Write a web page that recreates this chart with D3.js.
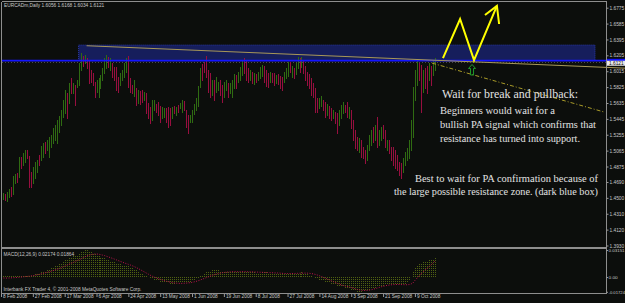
<!DOCTYPE html>
<html>
<head>
<meta charset="utf-8">
<script src="https://cdn.jsdelivr.net/npm/d3@7"></script>
<style>
    html, body { margin: 0; padding: 0; background: #0c0e0c; }
    svg { display: block; }
</style>
</head>
<body>
<svg id="chart"></svg>
<script>
// EURCADm daily bars, one value per bar (8 Feb 2008 .. late Oct 2008)
var open = [
1.4564,1.4504,1.4540,1.4504,1.4552,1.4588,1.4564,1.4708,1.4768,1.4756,
1.4960,1.4900,1.4972,1.5044,1.4972,1.4768,1.4696,1.4756,1.4828,1.4984,
1.4972,1.5008,1.5140,1.5080,1.5044,1.5128,1.5188,1.5236,1.5212,1.5332,
1.5404,1.5500,1.5572,1.5728,1.5668,1.5908,1.5776,1.5824,1.5836,1.5872,
1.6052,1.6172,1.6124,1.6160,1.6124,1.6004,1.5968,1.5860,1.5788,1.5740,
1.5836,1.5932,1.6016,1.6076,1.6172,1.6064,1.6100,1.6040,1.6028,1.5920,
1.5860,1.5932,1.5968,1.6028,1.6160,1.5908,1.5836,1.5740,1.5800,1.5656,
1.5764,1.5764,1.5680,1.5728,1.5608,1.5560,1.5452,1.5572,1.5608,1.5620,
1.5572,1.5476,1.5488,1.5548,1.5560,1.5548,1.5476,1.5584,1.5512,1.5596,
1.5584,1.5548,1.5644,1.5536,1.5464,1.5416,1.5428,1.5524,1.5572,1.5620,
1.5836,1.6076,1.6112,1.6172,1.6004,1.5968,1.5752,1.5884,1.5788,1.5800,
1.5884,1.5824,1.5728,1.5800,1.5860,1.5764,1.5728,1.5836,1.5956,1.5896,
1.5932,1.5992,1.6148,1.6124,1.6028,1.5920,1.5992,1.5872,1.5968,1.5920,
1.5956,1.5980,1.6064,1.6004,1.5968,1.5896,1.5980,1.5968,1.5884,1.5968,
1.5932,1.5920,1.5896,1.5956,1.5980,1.6112,1.5968,1.6040,1.5992,1.6076,
1.6160,1.6076,1.6136,1.6052,1.5980,1.5956,1.5908,1.5848,1.5788,1.5668,
1.5584,1.5620,1.5656,1.5620,1.5512,1.5584,1.5560,1.5464,1.5512,1.5488,
1.5392,1.5476,1.5536,1.5596,1.5620,1.5476,1.5536,1.5404,1.5284,1.5200,
1.5068,1.5176,1.5092,1.5044,1.4972,1.5092,1.5152,1.5320,1.5212,1.5428,
1.5152,1.5212,1.5344,1.5284,1.5080,1.5176,1.5080,1.5080,1.5044,1.4984,
1.4912,1.4888,1.4828,1.4912,1.4972,1.4996,1.5092,1.5248,1.5704,1.5884,
1.6100,1.6052,1.5788,1.6028,1.6052,1.5932,1.6064,1.5992,1.6056
];
var high = [
1.4588,1.4564,1.4552,1.4576,1.4600,1.4624,1.4756,1.4780,1.4792,1.4984,
1.4984,1.5032,1.5068,1.5068,1.4996,1.4804,1.4864,1.4924,1.4948,1.5008,
1.5116,1.5152,1.5164,1.5188,1.5224,1.5248,1.5332,1.5368,1.5428,1.5476,
1.5548,1.5668,1.5788,1.5752,1.5872,1.5932,1.5872,1.5848,1.5908,1.6112,
1.6232,1.6196,1.6208,1.6172,1.6148,1.6028,1.5992,1.5884,1.5908,1.5932,
1.5968,1.6052,1.6172,1.6208,1.6184,1.6172,1.6112,1.6064,1.6064,1.5944,
1.5992,1.6028,1.6112,1.6172,1.6196,1.5932,1.5848,1.5908,1.5812,1.5788,
1.5776,1.5788,1.5764,1.5752,1.5632,1.5584,1.5668,1.5668,1.5620,1.5644,
1.5596,1.5584,1.5572,1.5572,1.5584,1.5572,1.5584,1.5596,1.5584,1.5608,
1.5632,1.5668,1.5656,1.5548,1.5488,1.5488,1.5548,1.5620,1.5692,1.5836,
1.6052,1.6100,1.6124,1.6196,1.6028,1.5992,1.5908,1.5908,1.5944,1.5884,
1.5908,1.5848,1.5884,1.5908,1.5872,1.5872,1.5908,1.5980,1.5968,1.6004,
1.6064,1.6148,1.6172,1.6148,1.6052,1.6028,1.6004,1.5992,1.5980,1.6004,
1.6064,1.6088,1.6076,1.6028,1.5992,1.6004,1.5992,1.5992,1.5968,1.5980,
1.5956,1.5944,1.6004,1.6052,1.6124,1.6124,1.6076,1.6052,1.6112,1.6184,
1.6172,1.6184,1.6148,1.6076,1.6004,1.5980,1.5932,1.5872,1.5812,1.5692,
1.5692,1.5716,1.5668,1.5644,1.5620,1.5596,1.5572,1.5548,1.5524,1.5512,
1.5548,1.5608,1.5644,1.5608,1.5644,1.5584,1.5548,1.5428,1.5308,1.5224,
1.5212,1.5188,1.5104,1.5068,1.5128,1.5248,1.5308,1.5344,1.5368,1.5464,
1.5308,1.5344,1.5368,1.5308,1.5188,1.5188,1.5104,1.5104,1.5068,1.5008,
1.4924,1.4912,1.4972,1.5044,1.5092,1.5188,1.5428,1.5824,1.6028,1.6148,
1.6112,1.6088,1.6028,1.6052,1.6076,1.6112,1.6076,1.6148,1.6168
];
var low = [
1.4468,1.4492,1.4480,1.4468,1.4516,1.4528,1.4552,1.4672,1.4684,1.4744,
1.4852,1.4888,1.4924,1.4972,1.4624,1.4624,1.4672,1.4732,1.4804,1.4888,
1.4948,1.4984,1.5032,1.5068,1.4984,1.5104,1.5152,1.5188,1.5152,1.5284,
1.5368,1.5464,1.5512,1.5452,1.5632,1.5752,1.5752,1.5608,1.5824,1.5848,
1.6028,1.6076,1.6112,1.6052,1.5872,1.5884,1.5848,1.5704,1.5764,1.5704,
1.5812,1.5908,1.5992,1.6052,1.6064,1.6028,1.5944,1.5908,1.5788,1.5764,
1.5848,1.5908,1.5944,1.6004,1.5824,1.5764,1.5752,1.5716,1.5608,1.5632,
1.5620,1.5644,1.5668,1.5512,1.5452,1.5392,1.5428,1.5548,1.5524,1.5488,
1.5404,1.5452,1.5464,1.5404,1.5344,1.5368,1.5452,1.5512,1.5488,1.5524,
1.5572,1.5524,1.5548,1.5344,1.5272,1.5404,1.5404,1.5500,1.5548,1.5596,
1.5824,1.5908,1.6004,1.5944,1.5764,1.5704,1.5728,1.5668,1.5764,1.5788,
1.5728,1.5644,1.5704,1.5788,1.5704,1.5752,1.5704,1.5812,1.5812,1.5884,
1.5908,1.5968,1.5992,1.5908,1.5884,1.5908,1.5872,1.5860,1.5884,1.5908,
1.5932,1.5956,1.5884,1.5836,1.5824,1.5884,1.5884,1.5848,1.5872,1.5860,
1.5812,1.5788,1.5884,1.5932,1.5956,1.6004,1.5944,1.5932,1.5980,1.6052,
1.6004,1.6064,1.5992,1.5908,1.5848,1.5812,1.5728,1.5704,1.5524,1.5524,
1.5572,1.5596,1.5548,1.5464,1.5488,1.5452,1.5428,1.5452,1.5392,1.5272,
1.5368,1.5452,1.5512,1.5524,1.5464,1.5452,1.5332,1.5188,1.5092,1.5068,
1.5044,1.4984,1.4972,1.4912,1.4948,1.5068,1.5128,1.5164,1.5188,1.5104,
1.5128,1.5188,1.5212,1.5104,1.5068,1.5032,1.4948,1.4888,1.4852,1.4828,
1.4768,1.4732,1.4804,1.4888,1.4948,1.4972,1.5068,1.5224,1.5668,1.5848,
1.5908,1.5524,1.5764,1.5812,1.5752,1.5908,1.5848,1.5968,1.6034
];
var close = [
1.4492,1.4540,1.4504,1.4564,1.4588,1.4552,1.4732,1.4756,1.4708,1.4960,
1.4888,1.5008,1.5044,1.4984,1.4660,1.4660,1.4840,1.4900,1.4936,1.4912,
1.5092,1.5128,1.5056,1.5164,1.5200,1.5224,1.5308,1.5344,1.5404,1.5452,
1.5524,1.5644,1.5752,1.5488,1.5836,1.5788,1.5848,1.5644,1.5896,1.6088,
1.6196,1.6100,1.6184,1.6076,1.5908,1.5908,1.5872,1.5728,1.5884,1.5908,
1.5944,1.6028,1.6148,1.6184,1.6088,1.6148,1.5968,1.5932,1.5812,1.5788,
1.5968,1.6004,1.6088,1.6148,1.5860,1.5788,1.5764,1.5884,1.5632,1.5764,
1.5644,1.5668,1.5752,1.5536,1.5476,1.5416,1.5644,1.5656,1.5536,1.5512,
1.5428,1.5572,1.5548,1.5428,1.5380,1.5404,1.5572,1.5524,1.5572,1.5536,
1.5620,1.5656,1.5572,1.5368,1.5308,1.5476,1.5536,1.5608,1.5680,1.5812,
1.6028,1.5932,1.6028,1.5968,1.5788,1.5728,1.5884,1.5692,1.5920,1.5872,
1.5752,1.5668,1.5860,1.5896,1.5728,1.5860,1.5884,1.5956,1.5836,1.5992,
1.6040,1.6124,1.6016,1.5932,1.5908,1.6016,1.5884,1.5980,1.5896,1.5992,
1.6052,1.6076,1.5908,1.5860,1.5848,1.5992,1.5896,1.5872,1.5956,1.5872,
1.5836,1.5812,1.5992,1.6040,1.6100,1.6028,1.6064,1.5944,1.6100,1.6172,
1.6028,1.6172,1.6016,1.5932,1.5872,1.5836,1.5752,1.5728,1.5548,1.5548,
1.5680,1.5704,1.5572,1.5488,1.5608,1.5476,1.5452,1.5536,1.5416,1.5308,
1.5524,1.5596,1.5632,1.5536,1.5488,1.5572,1.5356,1.5212,1.5116,1.5092,
1.5188,1.5008,1.4996,1.4936,1.5104,1.5224,1.5284,1.5188,1.5344,1.5140,
1.5284,1.5320,1.5236,1.5128,1.5176,1.5056,1.4972,1.4912,1.4876,1.4852,
1.4792,1.4756,1.4948,1.5020,1.5068,1.5164,1.5404,1.5788,1.6004,1.6124,
1.5932,1.5572,1.6004,1.5836,1.5788,1.6088,1.5872,1.6124,1.6121
];

// MACD(12,26,9): main line (histogram) and signal line
var macdMain = [
0.0012,0.0011,0.0010,0.0010,0.0009,0.0008,0.0009,0.0008,0.0007,0.0010,
0.0012,0.0015,0.0019,0.0022,0.0021,0.0024,0.0028,0.0034,0.0042,0.0050,
0.0058,0.0066,0.0074,0.0083,0.0092,0.0101,0.0112,0.0124,0.0137,0.0152,
0.0166,0.0180,0.0194,0.0204,0.0216,0.0228,0.0240,0.0250,0.0260,0.0274,
0.0290,0.0303,0.0315,0.0310,0.0302,0.0292,0.0282,0.0270,0.0258,0.0246,
0.0234,0.0224,0.0216,0.0208,0.0200,0.0192,0.0184,0.0176,0.0166,0.0158,
0.0150,0.0143,0.0138,0.0134,0.0126,0.0116,0.0104,0.0092,0.0078,0.0064,
0.0050,0.0038,0.0026,0.0012,-0.0002,-0.0014,-0.0022,-0.0030,-0.0038,-0.0046,
-0.0054,-0.0060,-0.0064,-0.0068,-0.0072,-0.0076,-0.0077,-0.0076,-0.0074,-0.0071,
-0.0068,-0.0064,-0.0060,-0.0058,-0.0058,-0.0054,-0.0046,-0.0036,-0.0024,-0.0010,
0.0008,0.0026,0.0042,0.0056,0.0066,0.0074,0.0080,0.0082,0.0080,0.0078,
0.0076,0.0072,0.0068,0.0066,0.0062,0.0060,0.0058,0.0058,0.0060,0.0061,
0.0062,0.0066,0.0070,0.0068,0.0064,0.0060,0.0056,0.0054,0.0052,0.0050,
0.0052,0.0055,0.0056,0.0054,0.0050,0.0048,0.0046,0.0044,0.0044,0.0043,
0.0040,0.0036,0.0036,0.0038,0.0042,0.0044,0.0045,0.0044,0.0046,0.0050,
0.0052,0.0054,0.0052,0.0046,0.0038,0.0028,0.0016,0.0004,-0.0012,-0.0026,
-0.0036,-0.0044,-0.0052,-0.0062,-0.0068,-0.0074,-0.0082,-0.0088,-0.0096,-0.0106,
-0.0113,-0.0118,-0.0121,-0.0124,-0.0128,-0.0136,-0.0146,-0.0156,-0.0164,-0.0170,
-0.0172,-0.0170,-0.0168,-0.0166,-0.0160,-0.0152,-0.0142,-0.0132,-0.0124,-0.0118,
-0.0113,-0.0106,-0.0100,-0.0098,-0.0095,-0.0093,-0.0094,-0.0096,-0.0097,-0.0096,
-0.0093,-0.0090,-0.0086,-0.0081,-0.0074,-0.0046,0.0004,0.0060,0.0110,0.0130,
0.0152,0.0164,0.0175,0.0184,0.0190,0.0195,0.0198,0.0204,0.0217
];
var macdSignal = [
-0.0010,-0.0011,-0.0012,-0.0012,-0.0011,-0.0010,-0.0008,-0.0007,-0.0005,-0.0003,
-0.0001,0.0002,0.0004,0.0007,0.0009,0.0012,0.0016,0.0020,0.0025,0.0030,
0.0036,0.0042,0.0048,0.0054,0.0060,0.0066,0.0073,0.0080,0.0088,0.0097,
0.0106,0.0116,0.0126,0.0136,0.0146,0.0157,0.0167,0.0178,0.0189,0.0199,
0.0210,0.0222,0.0234,0.0244,0.0253,0.0260,0.0265,0.0268,0.0268,0.0266,
0.0262,0.0256,0.0250,0.0242,0.0234,0.0226,0.0218,0.0209,0.0200,0.0191,
0.0182,0.0173,0.0164,0.0156,0.0148,0.0140,0.0131,0.0121,0.0110,0.0098,
0.0086,0.0073,0.0060,0.0047,0.0034,0.0021,0.0010,0.0000,-0.0009,-0.0018,
-0.0026,-0.0034,-0.0041,-0.0048,-0.0054,-0.0059,-0.0064,-0.0068,-0.0071,-0.0073,
-0.0074,-0.0074,-0.0073,-0.0071,-0.0069,-0.0066,-0.0062,-0.0057,-0.0051,-0.0044,
-0.0036,-0.0027,-0.0018,-0.0009,0.0000,0.0009,0.0018,0.0026,0.0033,0.0039,
0.0044,0.0049,0.0053,0.0056,0.0058,0.0060,0.0061,0.0062,0.0062,0.0062,
0.0062,0.0062,0.0062,0.0062,0.0062,0.0061,0.0060,0.0059,0.0058,0.0057,
0.0056,0.0055,0.0054,0.0053,0.0052,0.0051,0.0050,0.0049,0.0048,0.0047,
0.0046,0.0044,0.0042,0.0041,0.0041,0.0041,0.0041,0.0042,0.0042,0.0043,
0.0044,0.0045,0.0046,0.0046,0.0045,0.0043,0.0040,0.0036,0.0030,0.0023,
0.0015,0.0006,-0.0004,-0.0014,-0.0024,-0.0034,-0.0044,-0.0054,-0.0064,-0.0074,
-0.0084,-0.0092,-0.0099,-0.0105,-0.0110,-0.0116,-0.0123,-0.0130,-0.0137,-0.0144,
-0.0150,-0.0154,-0.0156,-0.0157,-0.0156,-0.0153,-0.0149,-0.0143,-0.0136,-0.0129,
-0.0122,-0.0115,-0.0109,-0.0103,-0.0098,-0.0094,-0.0091,-0.0089,-0.0088,-0.0087,
-0.0087,-0.0088,-0.0089,-0.0090,-0.0090,-0.0088,-0.0082,-0.0070,-0.0040,-0.0015,
0.0010,0.0035,0.0058,0.0080,0.0100,0.0120,0.0140,0.0160,0.0186
];
var macdCurrent = [0.02174, 0.01864];

// axis labels
var priceTicks = [1.6775,1.6585,1.6395,1.6205,1.6015,1.5825,1.5635,1.5445,
                  1.5255,1.5065,1.4875,1.4690,1.4500,1.4310,1.4120,1.3930];
var dateTickBars = [0,16,32,48,64,80,96,112,128,144,160,176,192,208];
var dateLabels = ["8 Feb 2008","27 Feb 2008","17 Mar 2008","6 Apr 2008","24 Apr 2008",
                  "13 May 2008","1 Jun 2008","19 Jun 2008","8 Jul 2008","27 Jul 2008",
                  "14 Aug 2008","3 Sep 2008","21 Sep 2008","9 Oct 2008"];
var macdTicks = [0.03151, 0, -0.01724];
var macdTickLabels = ["0.03151", "0.00", "-0.01724"];

// drawn objects, as [bar, price]
var zoneCorners = [[39, 1.6328], [298.5, 1.6142]];
var resistanceLevel = 1.6142;
var topTrend = [[43, 1.6320], [301, 1.6064]];
var lowerTrend = [[216.6, 1.6112], [303.5, 1.5524]];
var zigzag = [[222.1, 1.6172], [230.7, 1.6640], [237.7, 1.6148], [249.2, 1.6796]];
var arrowHead = [[243.2, 1.6688], [249.2, 1.6796], [250.3, 1.6580]];
var buyArrow = [236.7, 1.6030];

var lastBar = {open: 1.6056, high: 1.6168, low: 1.6034, close: 1.6121};

// set the dimensions of the picture
var width = 625, height = 303;
var axisX = 606;

var svg = d3.select("#chart")
    .attr("width", width)
    .attr("height", height);

svg.append("rect")
    .attr("width", width).attr("height", height)
    .attr("fill", "#0c0e0c");

// scales
var x = d3.scaleLinear().domain([0, 300]).range([1, 1 + 300 * 1.99]);
var y = d3.scaleLinear().domain([1.3930, 1.6775]).range([245.5, 7.7]);
var ym = d3.scaleLinear().domain([-0.01724, 0.03151]).range([291.8, 250]);

var bars = d3.range(close.length).map(function (i) {
    return {i: i, o: open[i], h: high[i], l: low[i], c: close[i]};
});

var main = svg.append("g");

// resistance zone (dark blue box)
main.append("rect")
    .attr("x", x(zoneCorners[0][0]))
    .attr("y", y(zoneCorners[0][1]))
    .attr("width", x(zoneCorners[1][0]) - x(zoneCorners[0][0]))
    .attr("height", y(zoneCorners[1][1]) - y(zoneCorners[0][1]))
    .attr("fill", "#161e5c")
    .attr("stroke", "#2a3aa8")
    .attr("stroke-width", 1)
    .attr("stroke-dasharray", "1,1");

// bid line
main.append("line")
    .attr("x1", 2).attr("x2", axisX)
    .attr("y1", Math.round(y(lastBar.close)) + 0.5)
    .attr("y2", Math.round(y(lastBar.close)) + 0.5)
    .attr("stroke", "#4a4a4a")
    .attr("stroke-dasharray", "1,2");

// price bars
main.append("g")
    .attr("shape-rendering", "crispEdges")
    .selectAll("rect")
    .data(bars)
    .enter()
    .append("rect")
    .attr("x", function (d) { return Math.round(x(d.i)); })
    .attr("y", function (d) { return Math.round(y(d.h)); })
    .attr("width", 1)
    .attr("height", function (d) {
        return Math.max(1, Math.round(y(d.l)) - Math.round(y(d.h)) + 1);
    })
    .attr("fill", function (d) { return d.c >= d.o ? "#2f6b12" : "#970f3f"; });

// horizontal resistance line
main.append("line")
    .attr("x1", 2).attr("x2", width)
    .attr("y1", y(resistanceLevel)).attr("y2", y(resistanceLevel))
    .attr("stroke", "#1414ff")
    .attr("stroke-width", 1.6);

// trend line over the top, extended to the right edge
function extend(p) {
    var slope = (p[1][1] - p[0][1]) / (p[1][0] - p[0][0]);
    var endBar = x.invert(width);
    return [p[0], [endBar, p[0][1] + slope * (endBar - p[0][0])]];
}
var line = d3.line()
    .x(function (d) { return x(d[0]); })
    .y(function (d) { return y(d[1]); });

main.append("path")
    .attr("d", line(extend(topTrend)))
    .attr("fill", "none")
    .attr("stroke", "#a89858")
    .attr("stroke-width", 1);

main.append("path")
    .attr("d", line(lowerTrend))
    .attr("fill", "none")
    .attr("stroke", "#a89a28")
    .attr("stroke-width", 1)
    .attr("stroke-dasharray", "4,2,1,2");

// yellow zig-zag with arrow head
main.append("path")
    .attr("d", line(zigzag))
    .attr("fill", "none")
    .attr("stroke", "#ffff00")
    .attr("stroke-width", 2)
    .attr("stroke-linejoin", "miter");
main.append("path")
    .attr("d", line(arrowHead))
    .attr("fill", "none")
    .attr("stroke", "#ffff00")
    .attr("stroke-width", 2);

// green up arrow
main.append("path")
    .attr("transform", "translate(" + x(buyArrow[0]) + "," + y(buyArrow[1]) + ")")
    .attr("d", "M0,-5.5L3.5,-1.5L1.5,-1.5L1.5,5L-1.5,5L-1.5,-1.5L-3.5,-1.5Z")
    .attr("fill", "none")
    .attr("stroke", "#1f9a2a")
    .attr("stroke-width", 1);

// MACD window
var macd = svg.append("g");
macd.append("g")
    .attr("shape-rendering", "crispEdges")
    .selectAll("line")
    .data(macdMain)
    .enter()
    .append("line")
    .attr("x1", function (d, i) { return Math.round(x(i)) + 0.5; })
    .attr("x2", function (d, i) { return Math.round(x(i)) + 0.5; })
    .attr("y1", ym(0))
    .attr("y2", function (d) { return ym(d); })
    .attr("stroke", "#4f6012")
    .attr("stroke-dasharray", "1,1");

macd.append("path")
    .datum(macdSignal)
    .attr("d", d3.line()
        .x(function (d, i) { return x(i); })
        .y(function (d) { return ym(d); }))
    .attr("fill", "none")
    .attr("stroke", "#c0124e")
    .attr("stroke-width", 1)
    .attr("stroke-dasharray", "1,1.5");

// frames
var frame = svg.append("g")
    .attr("stroke", "#8e8e8e")
    .attr("fill", "none")
    .attr("shape-rendering", "crispEdges");
frame.append("line").attr("x1", 1.5).attr("x2", axisX + 0.5).attr("y1", 1.5).attr("y2", 1.5);
frame.append("line").attr("x1", 1.5).attr("x2", 1.5).attr("y1", 1.5).attr("y2", 294);
frame.append("line").attr("x1", axisX + 0.5).attr("x2", axisX + 0.5).attr("y1", 1.5).attr("y2", 294);
frame.append("rect").attr("x", 1.5).attr("y", 247).attr("width", axisX - 1).attr("height", 1.5)
    .attr("fill", "#8e8e8e");
frame.append("line").attr("x1", 1.5).attr("x2", axisX + 0.5).attr("y1", 293.5).attr("y2", 293.5);

// right price axis
var fontSmall = "Liberation Sans, Arial, sans-serif";
var yAxis = svg.append("g")
    .attr("transform", "translate(" + (axisX + 0.5) + ",0)")
    .call(d3.axisRight(y).tickValues(priceTicks).tickSize(2).tickPadding(1)
        .tickFormat(d3.format(".4f")));
yAxis.select(".domain").remove();

var macdAxis = svg.append("g")
    .attr("transform", "translate(" + (axisX + 0.5) + ",0)")
    .call(d3.axisRight(ym).tickValues(macdTicks).tickSize(1.5).tickPadding(0.5)
        .tickFormat(function (d, k) { return macdTickLabels[k]; }));
macdAxis.select(".domain").remove();

// bottom date axis
var xAxis = svg.append("g")
    .attr("transform", "translate(0,294)")
    .call(d3.axisBottom(x).tickValues(dateTickBars).tickSize(3).tickPadding(1)
        .tickFormat(function (d, k) { return dateLabels[k]; }));
xAxis.select(".domain").remove();
xAxis.selectAll("text").attr("text-anchor", "start").attr("dx", "1.5").attr("dy", "0.1em");

svg.selectAll(".tick line").attr("stroke", "#9a9a9a");
svg.selectAll(".tick text")
    .attr("fill", "#c8c8c8")
    .attr("font-family", fontSmall)
    .attr("font-size", 4.8);
macdAxis.selectAll(".tick text")
    .attr("font-size", 4.4)
    .attr("textLength", function (d, k) { return Math.min(16.5, macdTickLabels[k].length * 2.3); })
    .attr("lengthAdjust", "spacingAndGlyphs");

// current price labels on the axis
svg.append("rect")
    .attr("x", axisX + 1).attr("y", y(resistanceLevel) - 1.8)
    .attr("width", width - axisX).attr("height", 2.2)
    .attr("fill", "#1414ff");
svg.append("rect")
    .attr("x", axisX + 1).attr("y", y(lastBar.close) - 1.6)
    .attr("width", width - axisX - 1).attr("height", 5)
    .attr("fill", "#e8e8e8");
svg.append("text")
    .attr("x", axisX + 3).attr("y", y(lastBar.close) + 2.9)
    .attr("fill", "#101010")
    .attr("font-family", fontSmall)
    .attr("font-size", 4.8)
    .text(d3.format(".4f")(lastBar.close));

// window captions
var captions = svg.append("g")
    .attr("fill", "#c8c8c8")
    .attr("font-family", fontSmall)
    .attr("font-size", 4.8);
captions.append("text").attr("x", 4).attr("y", 7.2)
    .text("EURCADm,Daily  " + [lastBar.open, lastBar.high, lastBar.low, lastBar.close]
        .map(d3.format(".4f")).join(" "));
captions.append("text").attr("x", 3.5).attr("y", 255.6)
    .text("MACD(12,26,9) " + macdCurrent.map(d3.format(".5f")).join(" "));
captions.append("text").attr("x", 3.5).attr("y", 291.4)
    .text("Interbank FX Trader 4, \u00a9 2001-2008 MetaQuotes Software Corp.");

// annotations
var notes = svg.append("g")
    .attr("fill", "#e2e2e2")
    .attr("font-family", "Liberation Serif, Times New Roman, serif");
var noteLines = [
    {t: "Wait for break and pullback:", x: 442, y: 97.5, s: 11.8, w: 136},
    {t: "Beginners would wait for a", x: 440, y: 114, s: 10.3, w: 115},
    {t: "bullish PA signal which confirms that", x: 440, y: 128, s: 10.3, w: 156},
    {t: "resistance has turned into support.", x: 440, y: 142, s: 10.3, w: 140},
    {t: "Best to wait for PA confirmation because of", x: 415, y: 182, s: 10.3, w: 183},
    {t: "the large possible resistance zone. (dark blue box)", x: 394, y: 194.5, s: 10.3, w: 204}
];
notes.selectAll("text")
    .data(noteLines)
    .enter()
    .append("text")
    .attr("x", function (d) { return d.x; })
    .attr("y", function (d) { return d.y; })
    .attr("font-size", function (d) { return d.s; })
    .attr("textLength", function (d) { return d.w; })
    .attr("lengthAdjust", "spacingAndGlyphs")
    .text(function (d) { return d.t; });
</script>
</body>
</html>
